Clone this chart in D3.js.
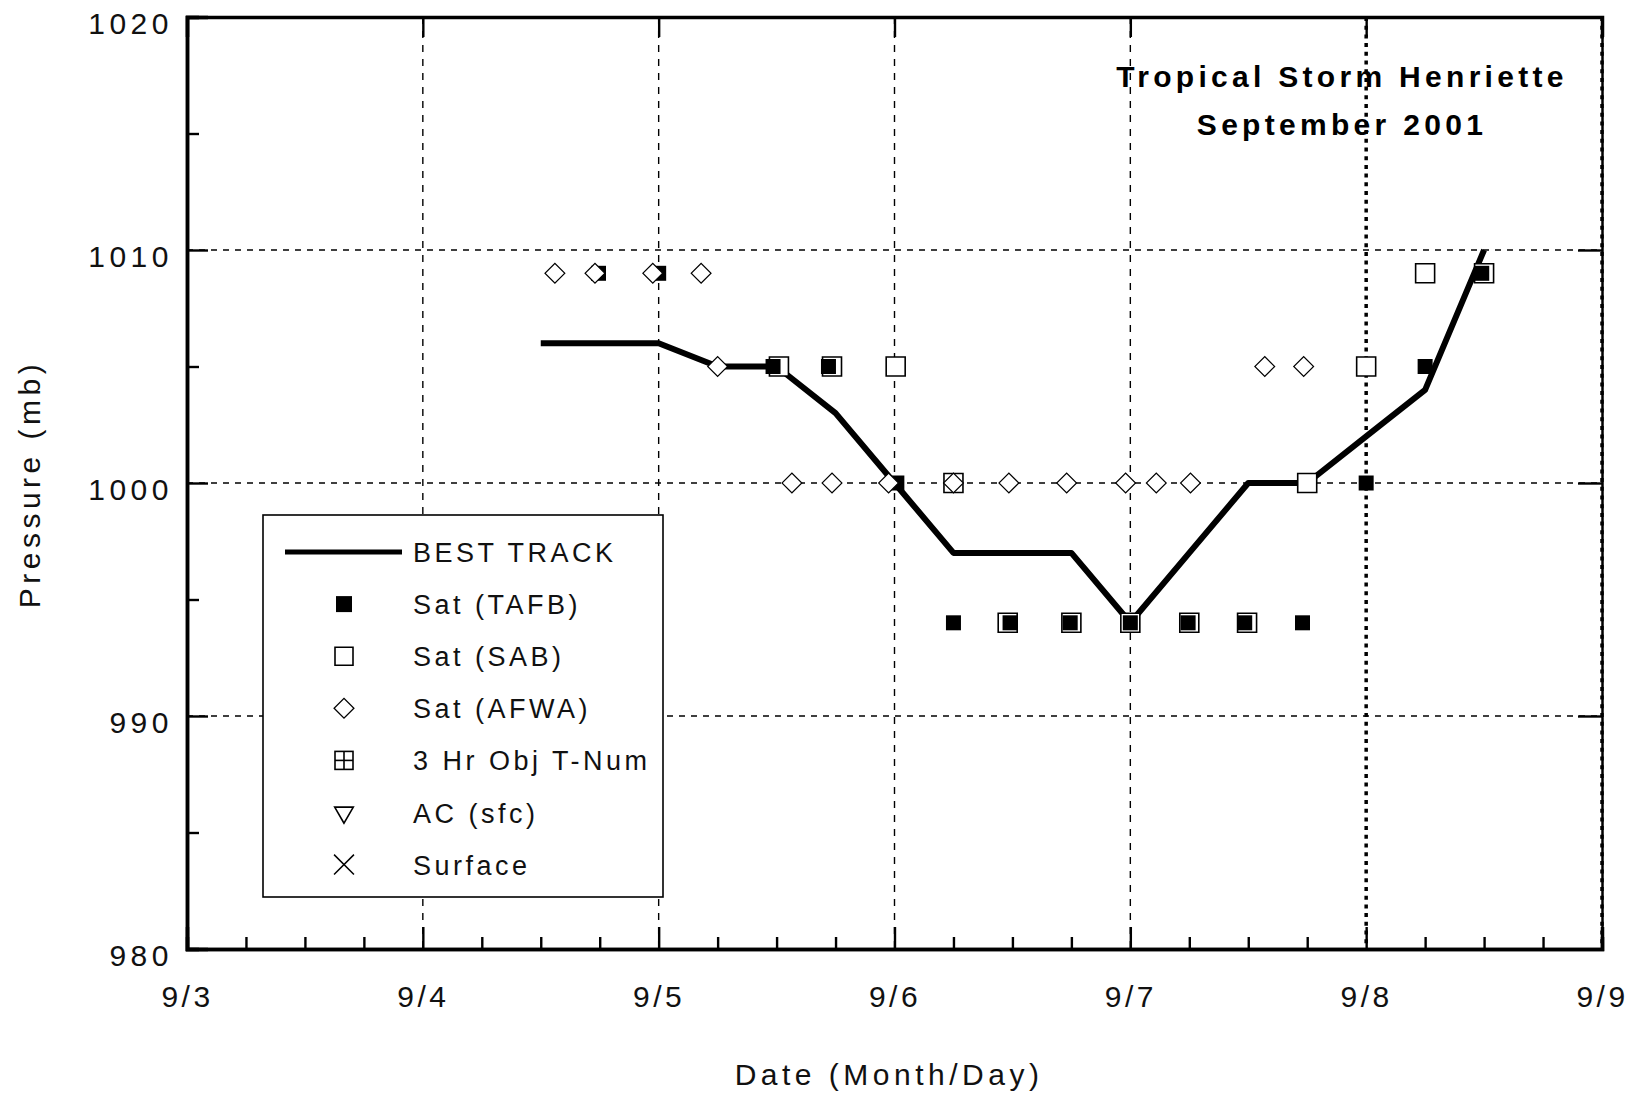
<!DOCTYPE html>
<html>
<head>
<meta charset="utf-8">
<script src="https://cdnjs.cloudflare.com/ajax/libs/d3/7.8.5/d3.min.js"></script>
<style>
    html, body { margin: 0; padding: 0; background: #fff; }
    svg { display: block; font-family: Arial, "Liberation Sans", sans-serif; }
</style>
</head>
<body>
<div id="chart"></div>
<script>
// days counted from 9/3 00Z
const dayLabels = ['9/3', '9/4', '9/5', '9/6', '9/7', '9/8', '9/9'];
const pressureTicks = [980, 990, 1000, 1010, 1020];

const bestTrackDay = [1.5, 2.0, 2.25, 2.5, 2.75, 3.0, 3.25, 3.75, 4.0, 4.25, 4.5, 4.75, 5.0, 5.25, 5.5];
const bestTrackMb  = [1006, 1006, 1005, 1005, 1003, 1000, 997, 997, 994, 997, 1000, 1000, 1002, 1004, 1010];

const tafbDay = [1.745, 2.0, 2.485, 2.72, 3.01, 3.25, 3.49, 3.745, 4.0, 4.245, 4.485, 4.73, 5.0, 5.25, 5.49];
const tafbMb  = [1009, 1009, 1005, 1005, 1000, 994, 994, 994, 994, 994, 994, 994, 1000, 1005, 1009];

const sabDay = [2.51, 2.735, 3.005, 3.25, 3.48, 3.75, 4.0, 4.25, 4.495, 4.75, 5.0, 5.25, 5.5];
const sabMb  = [1005, 1005, 1005, 1000, 994, 994, 994, 994, 994, 1000, 1005, 1009, 1009];

const afwaDay = [1.56, 1.73, 1.975, 2.18, 2.25, 2.565, 2.735, 2.975, 3.25, 3.485, 3.73, 3.98, 4.11, 4.255, 4.57, 4.735];
const afwaMb  = [1009, 1009, 1009, 1009, 1005, 1000, 1000, 1000, 1000, 1000, 1000, 1000, 1000, 1000, 1005, 1005];

const legendLabels = ['BEST TRACK', 'Sat (TAFB)', 'Sat (SAB)', 'Sat (AFWA)', '3 Hr Obj T-Num', 'AC (sfc)', 'Surface'];

class PressureChart {
    constructor(_config) {
        this.config = {
            parentElementSelector: _config.parentElementSelector,
            width: _config.width || 1634,
            height: _config.height || 1094,
            plot: _config.plot || { left: 187, right: 1602, top: 17, bottom: 949 },
        };
        this.initVis();
    }

    initVis() {
        const vis = this;
        const p = vis.config.plot;

        vis.svg = d3.select(vis.config.parentElementSelector)
            .append('svg')
            .attr('width', vis.config.width)
            .attr('height', vis.config.height);

        vis.x = d3.scaleLinear().domain([0, 6]).range([p.left, p.right]);
        vis.y = d3.scaleLinear().domain([980, 1020]).range([p.bottom, p.top]);

        vis.renderVis();
    }

    renderVis() {
        const vis = this;
        const p = vis.config.plot;
        const x = vis.x, y = vis.y;

        const quarterDays = d3.range(0, 24.5).map(d => d / 4).filter(d => d % 1 !== 0);
        const halfTens = [985, 995, 1005, 1015];

        // grid
        const grid = vis.svg.append('g').attr('class', 'grid');
        grid.selectAll('.hgrid')
            .data([990, 1000, 1010])
            .join('line')
            .attr('x1', p.left).attr('x2', p.right)
            .attr('y1', d => y(d)).attr('y2', d => y(d))
            .attr('stroke', '#000')
            .attr('stroke-width', 1.4)
            .attr('stroke-dasharray', '6,6');
        grid.selectAll('.vgrid')
            .data([1, 2, 3, 4])
            .join('line')
            .attr('x1', d => x(d)).attr('x2', d => x(d))
            .attr('y1', p.top).attr('y2', p.bottom)
            .attr('stroke', '#000')
            .attr('stroke-width', 1.4)
            .attr('stroke-dasharray', '7,7');
        grid.selectAll('.vgrid-dot')
            .data([5, 6])
            .join('line')
            .attr('x1', d => x(d)).attr('x2', d => x(d))
            .attr('y1', p.top).attr('y2', p.bottom)
            .attr('stroke', '#000')
            .attr('stroke-width', 3.5)
            .attr('stroke-dasharray', '4,4.7');

        // best track
        const line = d3.line()
            .x(i => x(bestTrackDay[i]))
            .y(i => y(bestTrackMb[i]));
        vis.svg.append('path')
            .attr('d', line(d3.range(bestTrackDay.length)))
            .attr('fill', 'none')
            .attr('stroke', '#000')
            .attr('stroke-width', 6)
            .attr('stroke-linejoin', 'round');

        // markers
        const openSq = d3.symbol().type(d3.symbolSquare).size(19 * 19);
        const fillSq = d3.symbol().type(d3.symbolSquare).size(15 * 15);
        const diamond = d3.symbol().type(d3.symbolSquare).size(14 * 14);

        vis.svg.append('g').selectAll('path')
            .data(d3.range(sabDay.length))
            .join('path')
            .attr('d', openSq)
            .attr('transform', i => `translate(${x(sabDay[i])},${y(sabMb[i])})`)
            .attr('fill', '#fff')
            .attr('stroke', '#000')
            .attr('stroke-width', 1.6);

        vis.svg.append('g').selectAll('path')
            .data(d3.range(tafbDay.length))
            .join('path')
            .attr('d', fillSq)
            .attr('transform', i => `translate(${x(tafbDay[i])},${y(tafbMb[i])})`)
            .attr('fill', '#000');

        vis.svg.append('g').selectAll('path')
            .data(d3.range(afwaDay.length))
            .join('path')
            .attr('d', diamond)
            .attr('transform', i => `translate(${x(afwaDay[i])},${y(afwaMb[i])}) rotate(45)`)
            .attr('fill', '#fff')
            .attr('stroke', '#000')
            .attr('stroke-width', 1.2);

        // axes
        const styleAxis = (g, w) => {
            g.select('.domain').attr('stroke-width', w);
            g.selectAll('.tick line').attr('stroke-width', 2.4);
        };
        const tickText = g => g.selectAll('text')
            .attr('font-size', 30)
            .attr('letter-spacing', 3.5)
            .attr('fill', '#111');

        vis.svg.append('g')
            .attr('transform', `translate(0,${p.bottom})`)
            .call(d3.axisBottom(x).tickValues(quarterDays).tickSize(-12).tickFormat(''))
            .call(g => styleAxis(g, 3.5));
        vis.svg.append('g')
            .attr('transform', `translate(0,${p.bottom})`)
            .call(d3.axisBottom(x).tickValues(d3.range(0, 7)).tickSize(-22).tickPadding(37)
                .tickFormat(d => dayLabels[d]))
            .call(g => styleAxis(g, 3.5))
            .call(tickText);

        vis.svg.append('g')
            .attr('transform', `translate(0,${p.top})`)
            .call(d3.axisTop(x).tickValues(quarterDays).tickSize(-10).tickFormat(''))
            .call(d3.axisTop(x).tickValues(d3.range(0, 7)).tickSize(-20).tickFormat(''))
            .call(g => styleAxis(g, 3.5));

        vis.svg.append('g')
            .attr('transform', `translate(${p.left},0)`)
            .call(d3.axisLeft(y).tickValues(halfTens).tickSize(-12).tickFormat(''))
            .call(g => styleAxis(g, 3.5));
        vis.svg.append('g')
            .attr('transform', `translate(${p.left},0)`)
            .call(d3.axisLeft(y).tickValues(pressureTicks).tickSize(-21).tickPadding(14)
                .tickFormat(d3.format('d')))
            .call(g => styleAxis(g, 3.5))
            .call(tickText)
            .call(g => g.selectAll('text').attr('dy', '0.55em').attr('letter-spacing', 4.5));

        vis.svg.append('g')
            .attr('transform', `translate(${p.right},0)`)
            .call(d3.axisRight(y).tickValues(halfTens).tickSize(-10).tickFormat(''))
            .call(d3.axisRight(y).tickValues(pressureTicks).tickSize(-24).tickFormat(''))
            .call(g => styleAxis(g, 2.5));

        vis.svg.selectAll('.domain').attr('stroke', '#000');

        // titles
        vis.svg.append('text')
            .attr('x', 1342).attr('y', 87)
            .attr('text-anchor', 'middle')
            .attr('font-size', 30).attr('font-weight', 'bold')
            .attr('letter-spacing', 4.3)
            .attr('fill', '#000')
            .text('Tropical Storm Henriette');
        vis.svg.append('text')
            .attr('x', 1342).attr('y', 135)
            .attr('text-anchor', 'middle')
            .attr('font-size', 30).attr('font-weight', 'bold')
            .attr('letter-spacing', 4.3)
            .attr('fill', '#000')
            .text('September 2001');

        vis.svg.append('text')
            .attr('x', 889).attr('y', 1085)
            .attr('text-anchor', 'middle')
            .attr('font-size', 30)
            .attr('letter-spacing', 4.5)
            .attr('fill', '#111')
            .text('Date (Month/Day)');
        vis.svg.append('text')
            .attr('transform', 'translate(40,484) rotate(-90)')
            .attr('text-anchor', 'middle')
            .attr('font-size', 30)
            .attr('letter-spacing', 4.5)
            .attr('fill', '#111')
            .text('Pressure (mb)');

        // legend
        const lg = vis.svg.append('g').attr('transform', 'translate(263,515)');
        lg.append('rect')
            .attr('width', 400).attr('height', 382)
            .attr('fill', '#fff')
            .attr('stroke', '#000')
            .attr('stroke-width', 1.6);

        const rowY = i => 37 + i * 52.1;
        const symX = 81;
        lg.selectAll('.lab')
            .data(legendLabels)
            .join('text')
            .attr('x', 150)
            .attr('y', (d, i) => rowY(i) + 10)
            .attr('font-size', 27)
            .attr('letter-spacing', 3.5)
            .attr('fill', '#111')
            .text(d => d);

        lg.append('line')
            .attr('x1', 22).attr('x2', 139)
            .attr('y1', rowY(0)).attr('y2', rowY(0))
            .attr('stroke', '#000').attr('stroke-width', 5);
        lg.append('path')
            .attr('d', d3.symbol().type(d3.symbolSquare).size(16 * 16)())
            .attr('transform', `translate(${symX},${rowY(1)})`)
            .attr('fill', '#000');
        lg.append('path')
            .attr('d', d3.symbol().type(d3.symbolSquare).size(18 * 18)())
            .attr('transform', `translate(${symX},${rowY(2)})`)
            .attr('fill', 'none').attr('stroke', '#000').attr('stroke-width', 1.6);
        lg.append('path')
            .attr('d', diamond())
            .attr('transform', `translate(${symX},${rowY(3)}) rotate(45)`)
            .attr('fill', 'none').attr('stroke', '#000').attr('stroke-width', 1.3);
        const t = lg.append('g').attr('transform', `translate(${symX},${rowY(4)})`)
            .attr('stroke', '#000').attr('stroke-width', 1.6).attr('fill', 'none');
        t.append('rect').attr('x', -9).attr('y', -9).attr('width', 18).attr('height', 18);
        t.append('line').attr('x1', -9).attr('x2', 9);
        t.append('line').attr('y1', -9).attr('y2', 9);
        lg.append('path')
            .attr('d', d3.symbol().type(d3.symbolTriangle).size(150)())
            .attr('transform', `translate(${symX},${rowY(5)}) rotate(180)`)
            .attr('fill', 'none').attr('stroke', '#000').attr('stroke-width', 1.6);
        lg.append('path')
            .attr('d', d3.symbol().type(d3.symbolTimes).size(260)())
            .attr('transform', `translate(${symX},${rowY(6)})`)
            .attr('fill', 'none').attr('stroke', '#000').attr('stroke-width', 1.5);
    }
}

const chart = new PressureChart({ parentElementSelector: '#chart' });
</script>
</body>
</html>
